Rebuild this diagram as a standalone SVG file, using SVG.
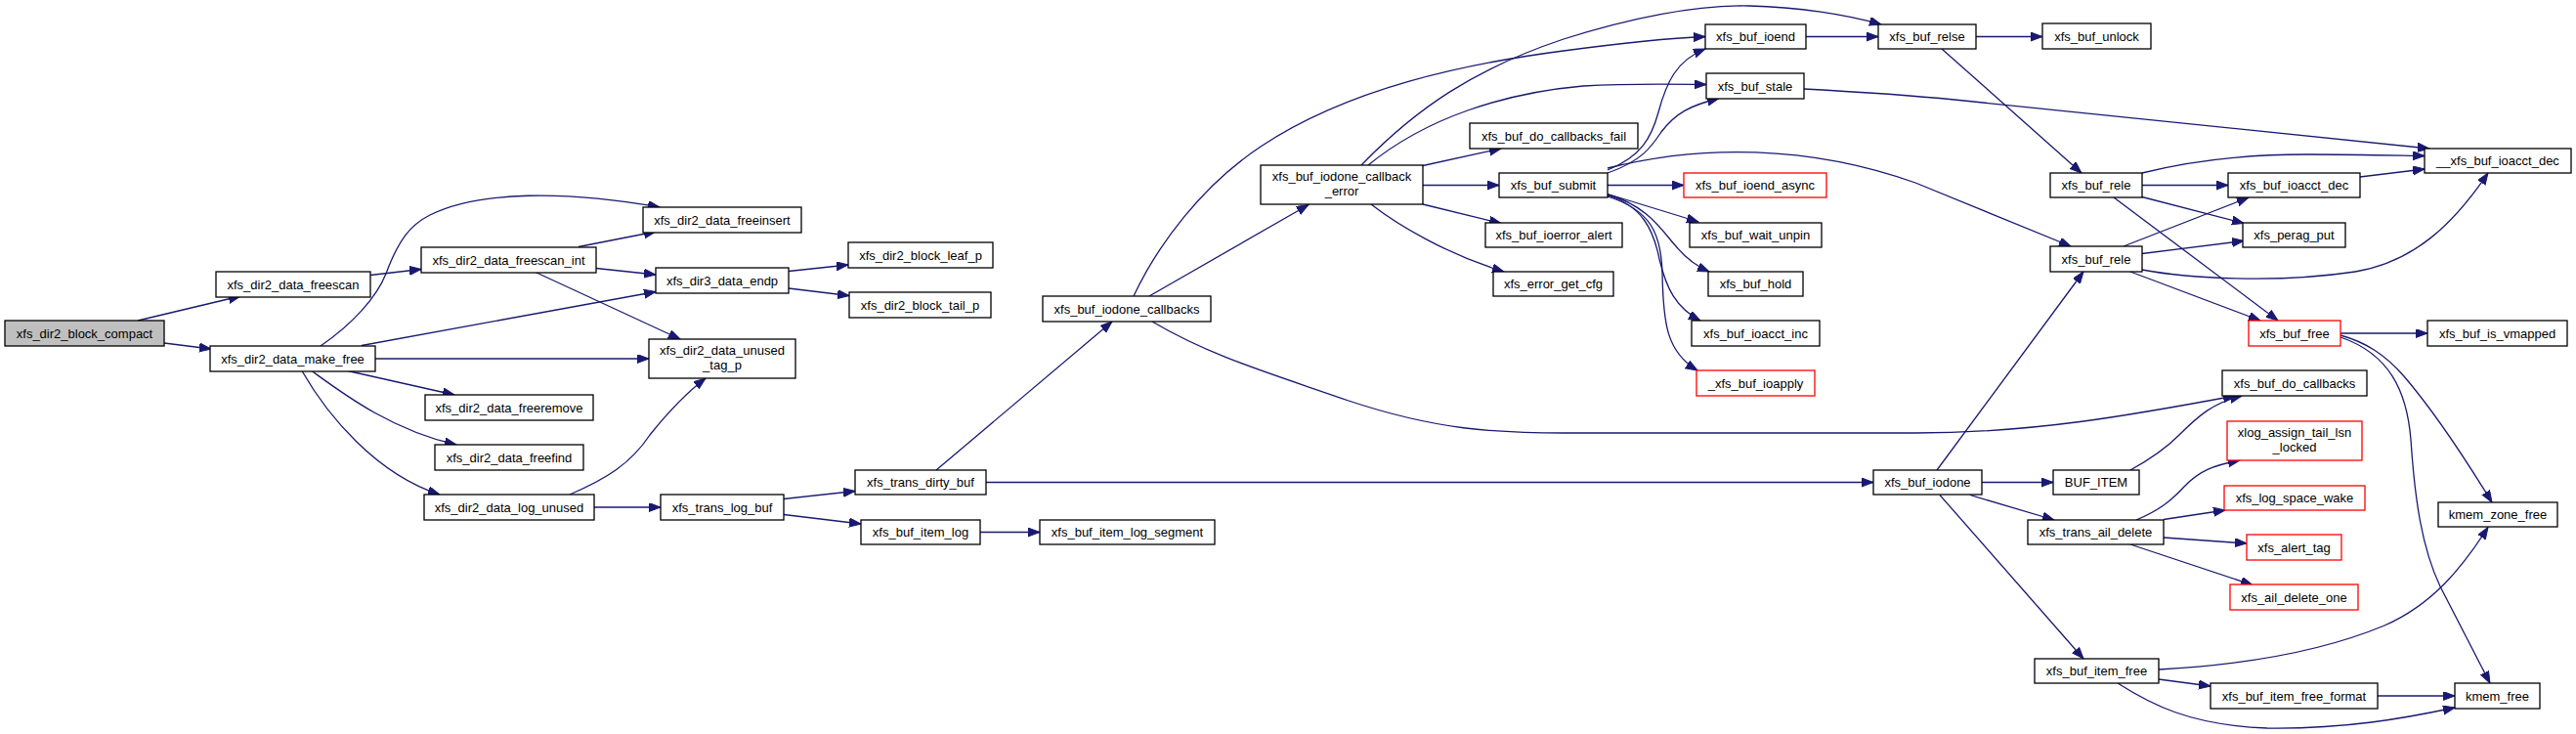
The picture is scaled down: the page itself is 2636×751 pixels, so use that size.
<svg xmlns="http://www.w3.org/2000/svg" width="2636" height="751" viewBox="0 0 2636 751">
<style>
.n rect{fill:#fff;stroke:#000;stroke-width:1.3}
.r rect{fill:#fff;stroke:#f00;stroke-width:1.3}
.g rect{fill:#bfbfbf;stroke:#000;stroke-width:1.3}
text{font-family:"Liberation Sans",Arial,sans-serif;font-size:13px;fill:#000;text-anchor:middle}
#edges path{fill:none;stroke:#191970;stroke-width:1.3;marker-end:url(#ah)}
</style>
<defs>
<marker id="ah" markerUnits="userSpaceOnUse" markerWidth="14" markerHeight="10" refX="12" refY="4.5" orient="auto"><path d="M0,0 L12,4.5 L0,9 z" fill="#191970" stroke="#191970" stroke-width="1"/></marker>
</defs>
<rect width="2636" height="751" fill="#fff"/>
<g id="edges">
<path d="M141,328 L246,303"/>
<path d="M168,351 L216,357"/>
<path d="M379,281.5 L431,275.5"/>
<path d="M592,252.5 L671,237"/>
<path d="M610,274.5 L671,281"/>
<path d="M548,278.5 L696,347"/>
<path d="M328,354 C360,332 385,305 395,280 C408,245 420,230 440,220 C490,195 580,195 675,212"/>
<path d="M370,353.5 L671,298.5"/>
<path d="M384,367 L664,367"/>
<path d="M356,379.5 L465,404"/>
<path d="M319,379.5 C350,402 400,440 467,455"/>
<path d="M309,379.5 C335,425 385,485 450,506"/>
<path d="M583,506 C620,490 645,475 665,445 C685,420 705,400 722,387"/>
<path d="M608,519 L676,519"/>
<path d="M807,277.5 L868,271"/>
<path d="M807,295 L869,302.5"/>
<path d="M802,510.5 L875,502.5"/>
<path d="M802,526.5 L881,536"/>
<path d="M1003,544.5 L1064,544.5"/>
<path d="M958,481 L1138,329"/>
<path d="M1009,493.5 L1917,493.5"/>
<path d="M1176,303 L1339,209.5"/>
<path d="M1160,303 C1185,250 1230,190 1290,150 C1380,90 1500,65 1600,52 C1660,44 1710,39 1745,37.5"/>
<path d="M1179,329 C1240,365 1300,382 1380,410 C1470,440 1530,443 1600,443 L1960,443 C2080,443 2180,425 2287,405"/>
<path d="M1393,169 C1450,110 1510,70 1600,40 C1680,15 1740,5 1790,6 C1840,7 1890,15 1925,25"/>
<path d="M1400,169 C1460,120 1540,95 1620,88 C1670,85 1710,86 1746,86.5"/>
<path d="M1456,169.5 L1536,152"/>
<path d="M1456,189.5 L1534,189.5"/>
<path d="M1456,209 L1536,228.5"/>
<path d="M1403,209 C1430,230 1480,260 1539,278"/>
<path d="M1645,174 C1680,160 1690,140 1697,115 C1705,85 1715,62 1745,50"/>
<path d="M1645,177 C1680,165 1690,150 1700,135 C1715,115 1730,108 1759,100.5"/>
<path d="M1645,172 C1740,148 1850,148 1960,187 L2119,252"/>
<path d="M1645,189.5 L1723,189.5"/>
<path d="M1645,198.5 L1738,227"/>
<path d="M1645,199 C1685,210 1700,235 1715,252 C1725,264 1735,272 1749,278"/>
<path d="M1645,200 C1680,210 1692,235 1698,265 C1705,295 1715,315 1740,328"/>
<path d="M1645,201 C1690,215 1700,240 1701,280 C1702,330 1705,360 1737,379"/>
<path d="M1848,37.5 L1922,37.5"/>
<path d="M1846,91 C1920,95 1960,98 2000,102 L2486,152"/>
<path d="M2022,37.5 L2090,37.5"/>
<path d="M1987,50 L2130,177"/>
<path d="M2192,177 C2240,165 2300,158 2360,158 C2410,158 2450,159 2481,159.5"/>
<path d="M2192,189.5 L2280,189.5"/>
<path d="M2192,201.5 L2296,228.5"/>
<path d="M2163,202 L2331,328"/>
<path d="M2173,252 L2301,202"/>
<path d="M2192,259.5 L2296,246.5"/>
<path d="M2192,276 C2240,285 2330,290 2410,278 C2470,268 2510,230 2546,177"/>
<path d="M2180,278 L2313,328"/>
<path d="M2415,181 L2481,173"/>
<path d="M2395,341 L2484,341"/>
<path d="M2395,343 C2420,350 2440,362 2460,385 C2490,420 2520,465 2550,514"/>
<path d="M2395,345 C2445,362 2463,400 2467,450 C2471,510 2478,560 2497,600 L2548,699"/>
<path d="M1982,481 L2132,278"/>
<path d="M2028,493.5 L2101,493.5"/>
<path d="M2016,506.5 L2102,532"/>
<path d="M1985,506.5 L2132,674"/>
<path d="M2180,481 C2200,470 2215,460 2230,445 C2250,425 2265,412 2294,405"/>
<path d="M2186,532 C2210,522 2222,512 2235,498 C2250,482 2265,476 2292,471"/>
<path d="M2214,531.5 L2277,522"/>
<path d="M2214,550 L2299,556"/>
<path d="M2180,557 L2305,598.5"/>
<path d="M2209,685 C2300,680 2380,665 2440,640 C2490,618 2520,580 2546,539.5"/>
<path d="M2209,695 L2262,702"/>
<path d="M2167,699 C2200,720 2240,742 2320,745 C2400,746 2460,735 2512,724"/>
<path d="M2433,712 L2512,712"/>
</g>
<g id="xfs_dir2_block_compact" class="g"><rect x="5" y="328" width="163" height="26"/><text x="86.5" y="345.5">xfs_dir2_block_compact</text></g>
<g id="xfs_dir2_data_freescan" class="n"><rect x="221" y="278" width="158" height="26"/><text x="300" y="295.5">xfs_dir2_data_freescan</text></g>
<g id="xfs_dir2_data_make_free" class="n"><rect x="215" y="354" width="169" height="26"/><text x="299.5" y="371.5">xfs_dir2_data_make_free</text></g>
<g id="xfs_dir2_data_freescan_int" class="n"><rect x="431" y="253" width="179" height="26"/><text x="520.5" y="270.5">xfs_dir2_data_freescan_int</text></g>
<g id="xfs_dir2_data_freeinsert" class="n"><rect x="658" y="212" width="162" height="26"/><text x="739" y="229.5">xfs_dir2_data_freeinsert</text></g>
<g id="xfs_dir3_data_endp" class="n"><rect x="671" y="274" width="136" height="26"/><text x="739" y="291.5">xfs_dir3_data_endp</text></g>
<g id="xfs_dir2_data_unused_tag_p" class="n"><rect x="664" y="347" width="150" height="40"/><text x="739" y="362.5">xfs_dir2_data_unused</text><text x="739" y="377.5">_tag_p</text></g>
<g id="xfs_dir2_data_freeremove" class="n"><rect x="435" y="404" width="172" height="26"/><text x="521" y="421.5">xfs_dir2_data_freeremove</text></g>
<g id="xfs_dir2_data_freefind" class="n"><rect x="445" y="455" width="152" height="26"/><text x="521" y="472.5">xfs_dir2_data_freefind</text></g>
<g id="xfs_dir2_data_log_unused" class="n"><rect x="434" y="506" width="174" height="26"/><text x="521" y="523.5">xfs_dir2_data_log_unused</text></g>
<g id="xfs_dir2_block_leaf_p" class="n"><rect x="868" y="248" width="148" height="26"/><text x="942" y="265.5">xfs_dir2_block_leaf_p</text></g>
<g id="xfs_dir2_block_tail_p" class="n"><rect x="869" y="299" width="145" height="26"/><text x="941.5" y="316.5">xfs_dir2_block_tail_p</text></g>
<g id="xfs_trans_log_buf" class="n"><rect x="676" y="506" width="126" height="26"/><text x="739" y="523.5">xfs_trans_log_buf</text></g>
<g id="xfs_trans_dirty_buf" class="n"><rect x="875" y="481" width="134" height="25"/><text x="942" y="498">xfs_trans_dirty_buf</text></g>
<g id="xfs_buf_item_log" class="n"><rect x="881" y="532" width="122" height="25"/><text x="942" y="549">xfs_buf_item_log</text></g>
<g id="xfs_buf_item_log_segment" class="n"><rect x="1064" y="532" width="179" height="25"/><text x="1153.5" y="549">xfs_buf_item_log_segment</text></g>
<g id="xfs_buf_iodone_callbacks" class="n"><rect x="1067" y="303" width="172" height="26"/><text x="1153" y="320.5">xfs_buf_iodone_callbacks</text></g>
<g id="xfs_buf_iodone_callback_error" class="n"><rect x="1290" y="169" width="166" height="40"/><text x="1373" y="185">xfs_buf_iodone_callback</text><text x="1373" y="200">_error</text></g>
<g id="xfs_buf_do_callbacks_fail" class="n"><rect x="1504" y="126" width="172" height="26"/><text x="1590" y="143.5">xfs_buf_do_callbacks_fail</text></g>
<g id="xfs_buf_submit" class="n"><rect x="1534" y="177" width="111" height="25"/><text x="1589.5" y="194">xfs_buf_submit</text></g>
<g id="xfs_buf_ioerror_alert" class="n"><rect x="1520" y="228" width="140" height="25"/><text x="1590" y="245">xfs_buf_ioerror_alert</text></g>
<g id="xfs_error_get_cfg" class="n"><rect x="1528" y="278" width="123" height="25"/><text x="1589.5" y="295">xfs_error_get_cfg</text></g>
<g id="xfs_buf_ioend" class="n"><rect x="1745" y="25" width="103" height="25"/><text x="1796.5" y="42">xfs_buf_ioend</text></g>
<g id="xfs_buf_stale" class="n"><rect x="1746" y="75" width="100" height="26"/><text x="1796" y="92.5">xfs_buf_stale</text></g>
<g id="xfs_buf_ioend_async" class="r"><rect x="1723" y="177" width="146" height="25"/><text x="1796" y="194">xfs_buf_ioend_async</text></g>
<g id="xfs_buf_wait_unpin" class="n"><rect x="1729" y="228" width="135" height="25"/><text x="1796.5" y="245">xfs_buf_wait_unpin</text></g>
<g id="xfs_buf_hold" class="n"><rect x="1748" y="278" width="97" height="25"/><text x="1796.5" y="295">xfs_buf_hold</text></g>
<g id="xfs_buf_ioacct_inc" class="n"><rect x="1731" y="328" width="131" height="26"/><text x="1796.5" y="345.5">xfs_buf_ioacct_inc</text></g>
<g id="_xfs_buf_ioapply" class="r"><rect x="1736" y="379" width="121" height="26"/><text x="1796.5" y="396.5">_xfs_buf_ioapply</text></g>
<g id="xfs_buf_relse" class="n"><rect x="1922" y="25" width="100" height="25"/><text x="1972" y="42">xfs_buf_relse</text></g>
<g id="xfs_buf_iodone" class="n"><rect x="1917" y="481" width="111" height="25"/><text x="1972.5" y="498">xfs_buf_iodone</text></g>
<g id="xfs_buf_unlock" class="n"><rect x="2090" y="24" width="111" height="26"/><text x="2145.5" y="41.5">xfs_buf_unlock</text></g>
<g id="xfs_buf_rele_1" class="n"><rect x="2098" y="177" width="94" height="25"/><text x="2145" y="194">xfs_buf_rele</text></g>
<g id="xfs_buf_ioacct_dec" class="n"><rect x="2280" y="177" width="135" height="25"/><text x="2347.5" y="194">xfs_buf_ioacct_dec</text></g>
<g id="__xfs_buf_ioacct_dec" class="n"><rect x="2481" y="152" width="150" height="25"/><text x="2556" y="169">__xfs_buf_ioacct_dec</text></g>
<g id="xfs_perag_put" class="n"><rect x="2295" y="228" width="105" height="25"/><text x="2347.5" y="245">xfs_perag_put</text></g>
<g id="xfs_buf_rele_2" class="n"><rect x="2098" y="252" width="94" height="26"/><text x="2145" y="269.5">xfs_buf_rele</text></g>
<g id="xfs_buf_free" class="r"><rect x="2301" y="328" width="94" height="26"/><text x="2348" y="345.5">xfs_buf_free</text></g>
<g id="xfs_buf_is_vmapped" class="n"><rect x="2484" y="328" width="143" height="26"/><text x="2555.5" y="345.5">xfs_buf_is_vmapped</text></g>
<g id="xfs_buf_do_callbacks" class="n"><rect x="2274" y="379" width="148" height="26"/><text x="2348" y="396.5">xfs_buf_do_callbacks</text></g>
<g id="xlog_assign_tail_lsn_locked" class="r"><rect x="2279" y="431" width="138" height="40"/><text x="2348" y="447">xlog_assign_tail_lsn</text><text x="2348" y="462">_locked</text></g>
<g id="BUF_ITEM" class="n"><rect x="2101" y="481" width="88" height="25"/><text x="2145" y="498">BUF_ITEM</text></g>
<g id="xfs_log_space_wake" class="r"><rect x="2276" y="497" width="144" height="25"/><text x="2348" y="514">xfs_log_space_wake</text></g>
<g id="xfs_trans_ail_delete" class="n"><rect x="2075" y="532" width="139" height="25"/><text x="2144.5" y="549">xfs_trans_ail_delete</text></g>
<g id="xfs_alert_tag" class="r"><rect x="2299" y="547" width="97" height="26"/><text x="2347.5" y="564.5">xfs_alert_tag</text></g>
<g id="xfs_ail_delete_one" class="r"><rect x="2282" y="598" width="131" height="26"/><text x="2347.5" y="615.5">xfs_ail_delete_one</text></g>
<g id="kmem_zone_free" class="n"><rect x="2495" y="514" width="122" height="25"/><text x="2556" y="531">kmem_zone_free</text></g>
<g id="xfs_buf_item_free" class="n"><rect x="2082" y="674" width="127" height="25"/><text x="2145.5" y="691">xfs_buf_item_free</text></g>
<g id="xfs_buf_item_free_format" class="n"><rect x="2262" y="699" width="171" height="26"/><text x="2347.5" y="716.5">xfs_buf_item_free_format</text></g>
<g id="kmem_free" class="n"><rect x="2512" y="699" width="87" height="26"/><text x="2555.5" y="716.5">kmem_free</text></g>
</svg>
